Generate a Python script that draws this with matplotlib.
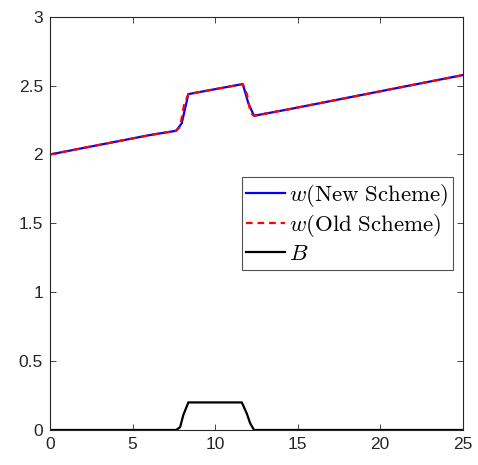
import numpy as np
from matplotlib import pyplot as plt

# surface elevation, new scheme
x_new = [0, 6.06, 7.64, 7.98, 8.38, 11.68, 12.02, 12.36, 14.55, 25]
w_new = [2.0, 2.141, 2.172, 2.226, 2.438, 2.511, 2.37, 2.281, 2.33, 2.576]

# surface elevation, old scheme
x_old = [0, 6.06, 7.64, 7.88, 8.12, 8.38, 11.68, 11.92, 12.16, 12.36, 14.55, 25]
w_old = [2.0, 2.141, 2.172, 2.20, 2.36, 2.438, 2.511, 2.44, 2.30, 2.281, 2.33, 2.576]

# bottom topography
x_bed = [0, 7.64, 7.88, 8.08, 8.38, 11.62, 11.92, 12.12, 12.36, 25]
b_bed = [0, 0, 0.02, 0.11, 0.2, 0.2, 0.12, 0.05, 0, 0]

xticks = [0, 5, 10, 15, 20, 25]
yticks = [0, 0.5, 1, 1.5, 2, 2.5, 3]

plt.rcParams['font.family'] = ['Liberation Sans', 'DejaVu Sans']
plt.rcParams['mathtext.fontset'] = 'cm'

fig = plt.figure(figsize=(4.78, 4.65), dpi=100)
ax = fig.add_axes([0.1046, 0.0753, 0.8634, 0.8888])

ax.plot(x_new, w_new, c='b', lw=1.6, label=r'$w\mathrm{(New\ Scheme)}$')
ax.plot(x_old, w_old, c='r', lw=1.6, ls=(0, (3, 2.2)), label=r'$w\mathrm{(Old\ Scheme)}$')
ax.plot(x_bed, b_bed, c='k', lw=1.6, label=r'$B$')

ax.set_xlim(0, 25)
ax.set_ylim(0, 3)
ax.set_xticks(xticks)
ax.set_yticks(yticks)
ax.set_xticklabels([str(t) for t in xticks])
ax.set_yticklabels(['0', '0.5', '1', '1.5', '2', '2.5', '3'])
ax.tick_params(direction='in', top=True, right=True, length=4, width=0.6,
               colors='0.15', labelsize=12.5, labelcolor='0.15', pad=5)
for s in ax.spines.values():
    s.set_color('0.15')
    s.set_linewidth(0.8)

leg = ax.legend(loc='upper left', bbox_to_anchor=(0.4645, 0.612), fontsize=16.5,
                frameon=True, fancybox=False, edgecolor='0.15', handlelength=1.7,
                handletextpad=0.15, borderpad=0.2, labelspacing=0.14,
                borderaxespad=0)
leg.get_frame().set_linewidth(0.8)

fig.savefig('out.png', dpi=100)
